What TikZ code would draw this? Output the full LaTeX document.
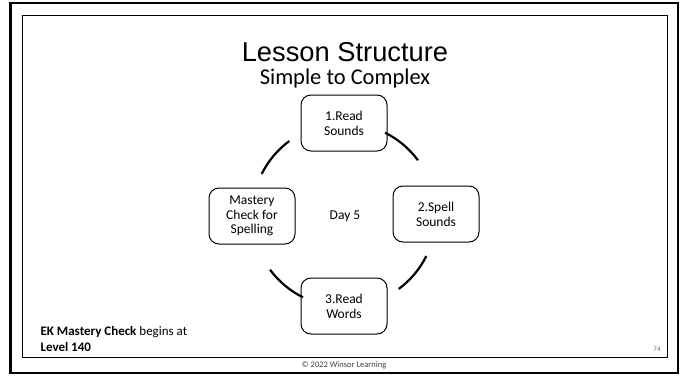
\documentclass[tikz,border=0pt]{standalone}
\usepackage{fontspec}
\setmainfont{Carlito}
\newfontfamily\titlefont{Liberation Sans}
\begin{document}
\begin{tikzpicture}[x=1pt,y=-1pt,
  stepbox/.style={draw=black, line width=1pt, rounded corners=10pt, minimum width=86pt, minimum height=56pt, align=center, font=\fontsize{13.5}{14.8}\selectfont, inner sep=2pt},
  arcline/.style={line width=2.2pt}]
\useasboundingbox (0,0) rectangle (685,378);
\draw[line width=2.4pt] (10.5,3) rectangle (678,373);
\draw[line width=0.9pt] (22.5,15.5) rectangle (667.5,357.5);
\node[font=\titlefont\fontsize{27.3}{31}\selectfont] (title) at (345,52.5) {Lesson Structure};
\node[font=\fontsize{22.5}{26}\selectfont] (sub) at (345,78) {Simple to Complex};
\coordinate (c) at (344,215);
\node[stepbox] (n1) at (344,123) {1.Read\\Sounds};
\node[stepbox] (n2) at (436,214) {2.Spell\\Sounds};
\node[stepbox] (n3) at (344,306) {3.Read\\Words};
\node[stepbox] (n4) at (252,216) {Mastery\\Check for\\Spelling};
\node[font=\fontsize{13.5}{15.5}\selectfont] (day) at (345,216) {Day 5};
\foreach \a in {26.5,116.5,206.5,296.5}{
  \draw[arcline] ([shift={(\a:92)}]c) arc[start angle=\a, end angle=\a+27, radius=92];
}
\node[anchor=west, font=\fontsize{13}{15}\selectfont] (ek) at (37,332) {\textbf{EK Mastery Check} begins at};
\node[anchor=west, font=\fontsize{13}{15}\selectfont] (lvl) at (37,347) {\textbf{Level 140}};
\node[font=\fontsize{7}{8}\selectfont, text=black!60] (pg) at (657,349) {74};
\node[font=\fontsize{8.5}{10}\selectfont, text=black!75] (copy) at (344,365.5) {© 2022 Winsor Learning};
\end{tikzpicture}
\end{document}
